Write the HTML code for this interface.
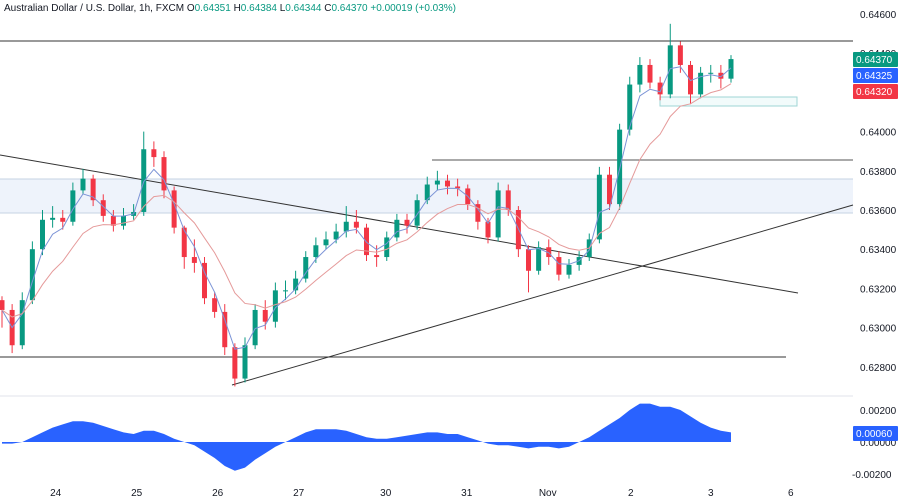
<!DOCTYPE html>
<html><head><meta charset="utf-8">
<style>
body{margin:0;background:#fff;font-family:"Liberation Sans",sans-serif;}
svg{display:block}
text{font-family:"Liberation Sans",sans-serif;}
</style></head>
<body>
<svg id="chart" width="900" height="501" viewBox="0 0 900 501">
<rect x="0" y="0" width="900" height="501" fill="#fff"/>
<text x="4" y="11" font-size="10" fill="#131722">Australian Dollar / U.S. Dollar, 1h, FXCM <tspan fill="#131722">O</tspan><tspan fill="#089981">0.64351</tspan> <tspan fill="#131722">H</tspan><tspan fill="#089981">0.64384</tspan> <tspan fill="#131722">L</tspan><tspan fill="#089981">0.64344</tspan> <tspan fill="#131722">C</tspan><tspan fill="#089981">0.64370 +0.00019 (+0.03%)</tspan></text>
<rect x="0" y="179" width="853" height="34" fill="#eef3fb"/>
<line x1="0" y1="179" x2="853" y2="179" stroke="#c6d3e3"/>
<line x1="0" y1="213" x2="853" y2="213" stroke="#c6d3e3"/>
<line x1="0" y1="41" x2="853" y2="41" stroke="#333"/>
<line x1="432" y1="160" x2="853" y2="160" stroke="#555"/>
<line x1="0" y1="357" x2="786" y2="357" stroke="#333"/>
<line x1="0" y1="155" x2="798" y2="293" stroke="#333"/>
<line x1="232" y1="385" x2="853" y2="205" stroke="#333"/>
<rect x="660" y="97" width="137" height="9" fill="#f2fbfb" stroke="#9fd6d6"/>
<g id="candles"></g>
<g id="mas"></g>
<line x1="0" y1="396" x2="853" y2="396" stroke="#e0e3eb"/>
<g id="osc"></g>
<g id="axes"></g>
</svg>
<script>
const closes=[0.6309,0.6291,0.6314,0.6340,0.6355,0.6356,0.6354,0.6370,0.6376,0.6365,0.6357,0.6352,0.6357,0.6359,0.6391,0.6387,0.6370,0.6351,0.6336,0.6333,0.6315,0.6308,0.6290,0.6274,0.6291,0.6309,0.6303,0.6319,0.6319,0.6325,0.6336,0.6342,0.6345,0.6349,0.6354,0.6351,0.6337,0.6336,0.6346,0.6355,0.6352,0.6365,0.6373,0.6375,0.6372,0.6371,0.6363,0.6354,0.6346,0.6370,0.6360,0.6340,0.6329,0.6341,0.6336,0.6327,0.6332,0.6336,0.6345,0.6378,0.6363,0.6401,0.6424,0.6434,0.6425,0.6419,0.6444,0.6434,0.6419,0.6430,0.6430,0.6427,0.6437];
const highs=[0.6316,0.6312,0.6318,0.6344,0.6360,0.6362,0.6360,0.6374,0.6381,0.6378,0.6368,0.6360,0.6361,0.6363,0.6400,0.6395,0.6390,0.6372,0.6352,0.6345,0.6336,0.6318,0.6312,0.6292,0.6295,0.6312,0.6314,0.6323,0.6324,0.6329,0.6339,0.6346,0.6349,0.6353,0.6362,0.6360,0.6353,0.6342,0.6349,0.6358,0.6358,0.6368,0.6377,0.6380,0.6378,0.6376,0.6373,0.6365,0.6356,0.6374,0.6373,0.6362,0.6342,0.6344,0.6345,0.6339,0.6335,0.6339,0.6348,0.6382,0.6382,0.6404,0.6428,0.6438,0.6437,0.6428,0.6455,0.6446,0.6436,0.6433,0.6434,0.6434,0.6439];
const lows=[0.6300,0.6287,0.6289,0.6312,0.6337,0.6351,0.6350,0.6352,0.6368,0.6362,0.6354,0.6349,0.6350,0.6355,0.6357,0.6382,0.6366,0.6348,0.6330,0.6328,0.6312,0.6305,0.6286,0.6270,0.6272,0.6289,0.6299,0.6300,0.6314,0.6317,0.6323,0.6333,0.6340,0.6343,0.6346,0.6348,0.6334,0.6331,0.6334,0.6344,0.6348,0.6350,0.6363,0.6370,0.6368,0.6367,0.6360,0.6350,0.6343,0.6344,0.6357,0.6336,0.6318,0.6327,0.6332,0.6324,0.6325,0.6329,0.6334,0.6343,0.6360,0.6360,0.6398,0.6420,0.6422,0.6416,0.6417,0.6430,0.6414,0.6417,0.6425,0.6422,0.6425];
const oscValues=[-1,-1,0,3,6,9,11,13,13,12,10,8,6,5,7,7,5,2,0,-2,-6,-10,-15,-18,-16,-11,-7,-3,0,3,6,8,8,8,7,5,3,2,2,3,4,5,6,6,5,5,3,1,-1,-2,-2,-3,-4,-3,-3,-4,-3,0,3,7,11,15,20,24,24,22,22,20,16,12,9,7,6];
const priceTicks=[0.646,0.644,0.642,0.640,0.638,0.636,0.634,0.632,0.630,0.628];
const oscTicks=[0.002,0,-0.002];
const dayLabels=["24","25","26","27","30","31","Nov","2","3","6"];
const dayBarIndex=[5.3,13.3,21.3,29.3,37.9,45.9,53.9,62.1,70,77.9];

const NS="http://www.w3.org/2000/svg";
const py=p=>14+(0.646-p)*19600;
const bx=i=>2+i*10.125;
const oy=v=>442-v*16000;
function mk(tag,attrs,parent){const e=document.createElementNS(NS,tag);for(const k in attrs)e.setAttribute(k,attrs[k]);parent.appendChild(e);return e;}
const cg=document.getElementById('candles');
for(let i=0;i<closes.length;i++){
  const o=i?closes[i-1]:0.6314,c=closes[i];
  const col=c>=o?'#089981':'#f23645';
  const g=mk('g',{},cg);
  
  
  mk('line',{x1:bx(i),x2:bx(i),y1:py(highs[i]),y2:py(lows[i]),stroke:col,'stroke-width':1},g);
  const t=py(Math.max(o,c)),b=py(Math.min(o,c));
  mk('rect',{x:bx(i)-2.5,y:t,width:5,height:Math.max(1,b-t),fill:col},g);
}
function ema(arr,n){const k=2/(n+1);let r=[],v=arr[0];for(const a of arr){v=a*k+v*(1-k);r.push(v);}return r;}
const mg=document.getElementById('mas');
[[ema(closes,3),'#7b93d6','fast-ma'],[ema(closes,9),'#e59a9a','slow-ma']].forEach(([s,col,n])=>{
  const p=mk('polyline',{points:s.map((v,i)=>bx(i)+','+py(v)).join(' '),fill:'none',stroke:col,'stroke-width':1},mg);
  
  
});
const og=document.getElementById('osc');
let pts=[bx(0)+','+oy(0)];
oscValues.forEach((v,i)=>pts.push(bx(i)+','+oy(v/10000)));
pts.push(bx(oscValues.length-1)+','+oy(0));
const area=mk('polygon',{points:pts.join(' '),fill:'#2962ff'},og);


const ag=document.getElementById('axes');
priceTicks.forEach(p=>{
  const t=mk('text',{x:860,y:py(p)+4,'font-size':10,fill:'#131722'},ag);t.textContent=p.toFixed(5);
  
  
});
oscTicks.forEach(v=>{
  const t=mk('text',{x:v<0?852:860,y:oy(v)+4,'font-size':10,fill:'#131722'},ag);t.textContent=v.toFixed(5);
  
  
});
[['0.64370','#089981',52,'last-price-label'],['0.64325','#2962ff',68,'fast-ma-label'],['0.64320','#f23645',84,'slow-ma-label'],['0.00060','#2962ff',426,'osc-value-label']].forEach(([s,col,y,n])=>{
  const r=mk('rect',{x:853,y:y,width:45,height:15,fill:col,rx:1},ag);
  
  
  const t=mk('text',{x:856,y:y+11,'font-size':10,fill:'#fff'},ag);t.textContent=s;
  
  
});
dayLabels.forEach((d,i)=>{
  const t=mk('text',{x:bx(dayBarIndex[i]),y:496,'font-size':10,fill:'#131722','text-anchor':'middle'},ag);t.textContent=d;
  
  
});
</script>
</body></html>
